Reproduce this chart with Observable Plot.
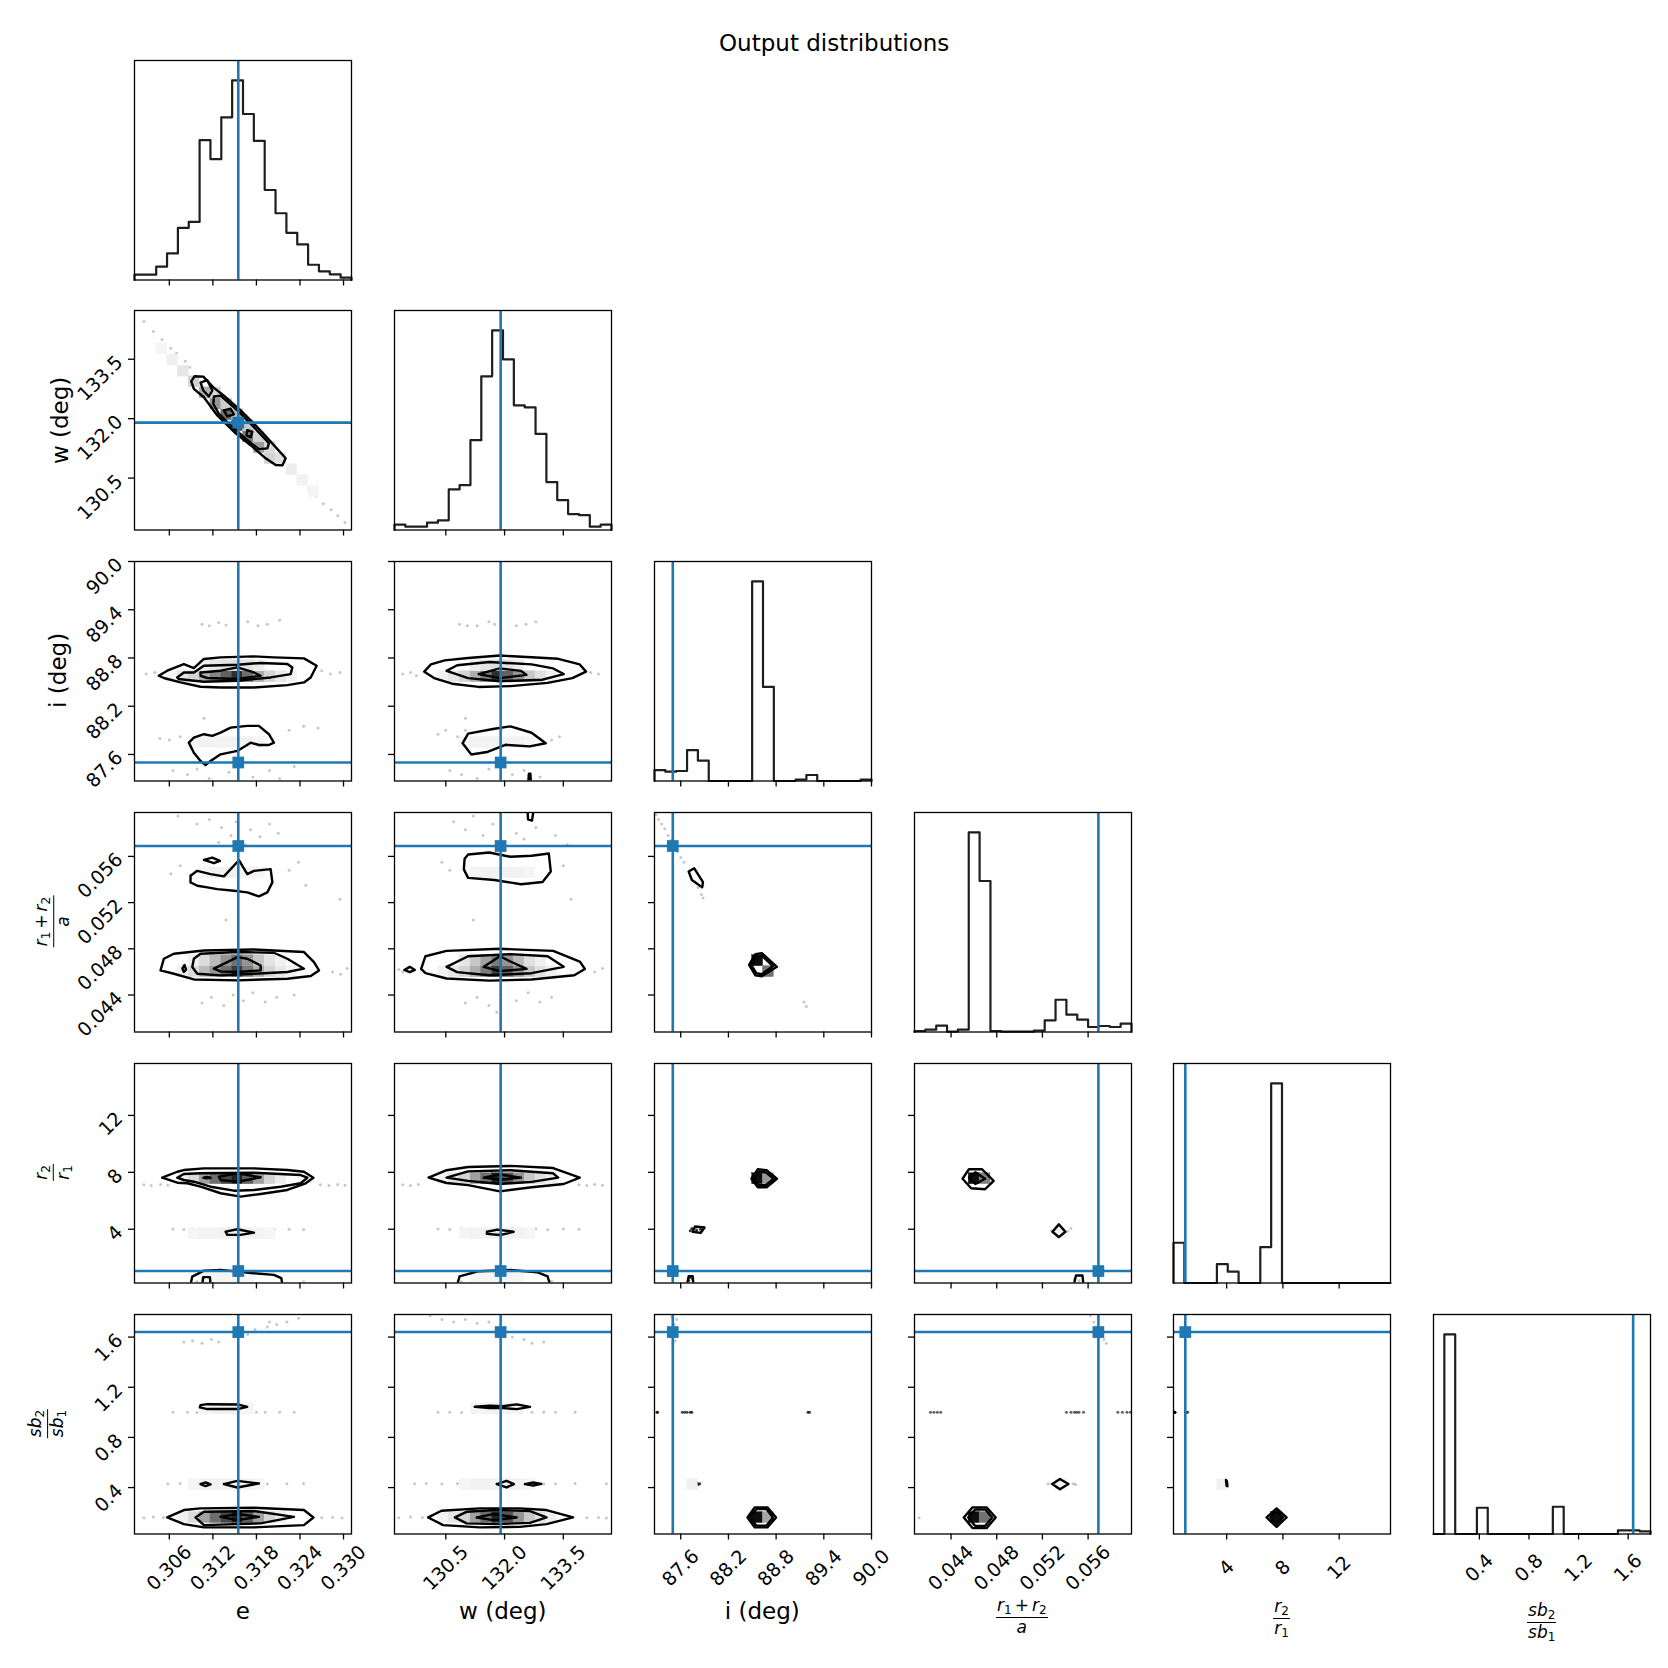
<!DOCTYPE html>
<html>
<head>
<meta charset="utf-8">
<script src="https://cdn.jsdelivr.net/npm/d3@7"></script>
<script src="https://cdn.jsdelivr.net/npm/@observablehq/plot@0.6"></script>
<style>
  body { margin: 0; background: #fff; }
  #fig { position: relative; width: 1668px; height: 1668px; background: #fff; overflow: hidden; font-family: "DejaVu Sans", sans-serif; }
  .lbl { position: absolute; white-space: nowrap; color: #000; font-family: "DejaVu Sans", sans-serif; line-height: 1.164; }
  .frac { display: inline-flex; flex-direction: column; align-items: center; font-size: 17px; line-height: 1.15; }
  .frac .num { border-bottom: 1.3px solid #000; padding: 0 1px 1px; }
  .frac .den { padding-top: 0px; }
  .frac i { font-style: italic; }
  .frac sub { font-size: 12px; vertical-align: -3px; line-height: 0; font-style: normal; }
  .frac .op { margin: 0 3px; font-style: normal; }
</style>
</head>
<body>
<div id="fig"></div>
<script>
// ---------------- data ----------------
const varKeys = ["e", "w", "i", "rr", "q", "s"];
const domains = [[0.3012, 0.3311], [129.19, 134.73], [87.27, 90.0], [0.0408, 0.0598], [0.22, 15.65], [0.03, 1.78]];
const truths = [0.3155, 131.9, 87.5, 0.0569, 1.06, 1.64];
const ticks = [
  [0.306, 0.312, 0.318, 0.324, 0.330],
  [130.5, 132.0, 133.5],
  [87.6, 88.2, 88.8, 89.4, 90.0],
  [0.044, 0.048, 0.052, 0.056],
  [4, 8, 12],
  [0.4, 0.8, 1.2, 1.6]
];
const tickLabels = [
  ["0.306", "0.312", "0.318", "0.324", "0.330"],
  ["130.5", "132.0", "133.5"],
  ["87.6", "88.2", "88.8", "89.4", "90.0"],
  ["0.044", "0.048", "0.052", "0.056"],
  ["4", "8", "12"],
  ["0.4", "0.8", "1.2", "1.6"]
];
const titleText = "Output distributions";
const labelPlain = ["e", "w (deg)", "i (deg)", null, null, null];
const labelNum = [null, null, null, "<i>r</i><sub>1</sub><span class='op'>+</span><i>r</i><sub>2</sub>", "<i>r</i><sub>2</sub>", "<i>sb</i><sub>2</sub>"];
const labelDen = [null, null, null, "<i>a</i>", "<i>r</i><sub>1</sub>", "<i>sb</i><sub>1</sub>"];

// histogram counts (20 bins over each range)
const histE = [16, 16, 40, 80, 157, 175, 421, 364, 490, 601, 500, 419, 271, 201, 142, 107, 46, 26, 17, 7];
const histW = [16, 10, 10, 22, 29, 122, 135, 270, 462, 600, 513, 375, 369, 289, 144, 90, 48, 45, 10, 16];
const histI = [33, 28, 30, 93, 61, 0, 0, 0, 0, 600, 283, 0, 0, 4, 18, 0, 0, 0, 0, 4];
const histRR = [3, 7, 19, 1, 7, 600, 454, 3, 1, 1, 1, 4, 35, 97, 52, 37, 15, 18, 15, 25];
const histQ = [121, 0, 0, 0, 57, 34, 0, 0, 108, 600, 0, 0, 0, 0, 0, 0, 0, 0, 0, 0];
const histS = [0, 601, 0, 0, 79, 0, 0, 0, 0, 0, 0, 82, 0, 0, 0, 0, 0, 11, 11, 8];

// contour polygons [x, y] in data units (y var _ x var)
const cont_w_e = [
  [[0.30902,132.94],[0.30948,133.07],[0.31068,133.06],[0.31206,132.79],[0.31352,132.58],[0.31582,132.21],[0.31789,131.83],[0.31996,131.42],[0.32203,131.0],[0.32157,130.82],[0.32065,130.83],[0.31927,131.0],[0.3172,131.33],[0.3149,131.67],[0.31261,132.08],[0.31076,132.54],[0.30938,132.75]],
  [[0.3103,132.91],[0.31123,132.97],[0.31192,132.71],[0.31145,132.56],[0.31068,132.71]],
  [[0.31214,132.56],[0.31306,132.58],[0.31537,132.21],[0.31743,131.83],[0.31972,131.38],[0.3195,131.25],[0.31834,131.23],[0.31674,131.46],[0.31468,131.79],[0.31283,132.12],[0.31206,132.37]],
  [[0.31352,132.21],[0.31444,132.25],[0.3149,132.11],[0.31399,132.06]],
  [[0.31674,131.71],[0.31743,131.67],[0.3172,131.53],[0.31665,131.58]]
];
const cont_i_e = [
  [[0.30455,88.579],[0.30571,88.642],[0.308,88.725],[0.30938,88.675],[0.31076,88.788],[0.31306,88.807],[0.31766,88.82],[0.32041,88.807],[0.32455,88.795],[0.3263,88.704],[0.32548,88.558],[0.32455,88.496],[0.32226,88.463],[0.31766,88.433],[0.31306,88.433],[0.3103,88.442],[0.30754,88.496],[0.30524,88.551]],
  [[0.30709,88.558],[0.308,88.62],[0.30938,88.62],[0.31076,88.704],[0.31537,88.716],[0.31858,88.738],[0.32226,88.725],[0.32295,88.683],[0.32272,88.6],[0.31996,88.558],[0.31537,88.517],[0.31076,88.504],[0.30847,88.526],[0.30731,88.538]],
  [[0.3103,88.62],[0.31306,88.642],[0.31537,88.683],[0.31766,88.62],[0.31858,88.579],[0.31537,88.538],[0.31123,88.551],[0.3103,88.579]],
  [[0.30869,87.747],[0.30938,87.81],[0.31076,87.852],[0.31192,87.831],[0.31306,87.872],[0.31444,87.934],[0.31674,87.955],[0.31834,87.955],[0.31972,87.852],[0.32041,87.747],[0.31972,87.718],[0.31834,87.718],[0.3172,87.747],[0.31537,87.644],[0.31306,87.602],[0.31168,87.519],[0.31099,87.469],[0.3103,87.519],[0.30938,87.622]]
];
const cont_rr_e = [
  [[0.30479,0.04613],[0.30524,0.04714],[0.30662,0.04757],[0.31076,0.04785],[0.31766,0.04794],[0.32455,0.04772],[0.32593,0.04685],[0.32662,0.04613],[0.32548,0.04565],[0.32226,0.04541],[0.31537,0.04527],[0.30938,0.04535],[0.30662,0.04584]],
  [[0.30938,0.04714],[0.3103,0.04757],[0.31537,0.04772],[0.32041,0.04766],[0.32226,0.04714],[0.32455,0.04628],[0.32226,0.04599],[0.31766,0.04584],[0.31306,0.0457],[0.30985,0.04584],[0.30916,0.04642]],
  [[0.31214,0.04628],[0.31399,0.04685],[0.31537,0.04728],[0.31674,0.04714],[0.31858,0.04656],[0.31858,0.04613],[0.31537,0.04599],[0.31306,0.04604]],
  [[0.3078,0.0463],[0.3081,0.0466],[0.3083,0.0462],[0.308,0.046]],
  [[0.30892,0.05432],[0.30985,0.05475],[0.31168,0.05447],[0.31352,0.05427],[0.31559,0.05567],[0.31674,0.05447],[0.31766,0.05475],[0.31996,0.0549],[0.3202,0.05375],[0.3195,0.05289],[0.31834,0.05254],[0.31674,0.05289],[0.3149,0.05303],[0.31261,0.05317],[0.31123,0.05332],[0.30985,0.05346],[0.30892,0.05375]],
  [[0.31076,0.0557],[0.31192,0.0559],[0.31297,0.05561],[0.31214,0.05541]]
];
const cont_q_e = [
  [[0.30502,7.62],[0.30709,8.04],[0.308,8.16],[0.31076,8.28],[0.31766,8.28],[0.32226,8.16],[0.32455,8.04],[0.32585,7.62],[0.32479,7.23],[0.32226,6.76],[0.31858,6.48],[0.31582,6.29],[0.31306,6.53],[0.3103,6.99],[0.30847,7.23],[0.30709,7.27]],
  [[0.30709,7.62],[0.308,7.88],[0.3103,7.93],[0.31766,7.97],[0.3241,7.81],[0.32502,7.62],[0.3241,7.23],[0.32134,6.99],[0.31766,6.76],[0.3149,6.71],[0.31168,6.99],[0.30938,7.34],[0.308,7.46]],
  [[0.31283,7.69],[0.31537,7.93],[0.31858,7.65],[0.31537,7.34],[0.31306,7.46]],
  [[0.3107,7.62],[0.3112,7.68],[0.3117,7.62],[0.3112,7.57]],
  [[0.31375,3.83],[0.31537,4.0],[0.31766,3.76],[0.31582,3.6],[0.31399,3.6]]
];
const open_q_e = [
  [[0.30892,0.1],[0.30916,0.67],[0.31076,1.09],[0.31306,1.14],[0.31766,0.91],[0.32041,0.79],[0.32143,0.56],[0.32157,0.1]],
  [[0.31053,0.1],[0.31067,0.63],[0.31159,0.63],[0.31168,0.1]]
];
const cont_s_e = [
  [[0.30571,0.162],[0.308,0.221],[0.3103,0.234],[0.31766,0.239],[0.32455,0.221],[0.32585,0.162],[0.32455,0.101],[0.31766,0.083],[0.31076,0.083],[0.308,0.109]],
  [[0.30961,0.162],[0.31076,0.207],[0.31766,0.213],[0.32317,0.167],[0.31858,0.115],[0.31076,0.101]],
  [[0.31306,0.167],[0.31537,0.189],[0.31834,0.167],[0.31537,0.141]],
  [[0.3103,0.428],[0.31099,0.441],[0.31168,0.425],[0.31099,0.412]],
  [[0.31352,0.428],[0.31537,0.454],[0.31834,0.433],[0.31537,0.401]],
  [[0.3103,1.057],[0.31123,1.065],[0.31537,1.063],[0.31674,1.044],[0.31537,1.026],[0.31123,1.026],[0.3102,1.039]]
];
const cont_i_w = [
  [[129.95,88.63],[130.12,88.72],[130.47,88.77],[131.07,88.8],[131.88,88.83],[132.69,88.81],[133.37,88.79],[133.92,88.72],[134.08,88.63],[133.73,88.55],[133.1,88.49],[132.15,88.45],[131.34,88.44],[130.66,88.48],[130.2,88.55]],
  [[130.52,88.64],[130.79,88.71],[131.61,88.75],[132.69,88.72],[133.24,88.67],[133.51,88.6],[132.97,88.53],[131.88,88.51],[131.07,88.55]],
  [[131.34,88.6],[131.88,88.67],[132.42,88.64],[132.56,88.59],[131.88,88.55]],
  [[130.93,87.74],[131.07,87.86],[131.74,87.92],[132.15,87.95],[132.69,87.87],[133.05,87.74],[132.64,87.7],[132.02,87.72],[131.55,87.63],[131.15,87.6]]
];
const open_i_w = [
  [[132.6,87.2],[132.62,87.36],[132.66,87.36],[132.68,87.2]]
];
const cont_rr_w = [
  [[129.87,0.04626],[129.98,0.04736],[130.52,0.04782],[131.88,0.048],[133.24,0.04782],[133.92,0.0469],[134.05,0.04626],[133.78,0.04571],[132.69,0.04534],[131.61,0.04525],[130.52,0.04543],[129.98,0.04589]],
  [[130.52,0.04644],[131.07,0.04736],[132.15,0.04754],[133.1,0.04736],[133.51,0.04644],[132.69,0.04589],[131.61,0.04571],[130.79,0.04598]],
  [[131.47,0.04644],[131.88,0.04736],[132.15,0.0469],[132.56,0.04626],[131.88,0.04607]],
  [[129.44,0.04617],[129.58,0.04644],[129.71,0.04617],[129.58,0.04598]],
  [[130.98,0.0558],[131.07,0.05616],[131.61,0.05634],[132.15,0.05597],[132.69,0.05606],[133.13,0.05625],[133.18,0.05469],[132.97,0.05378],[132.42,0.05359],[131.74,0.05396],[131.07,0.05414],[130.96,0.05488]]
];
const open_rr_w = [
  [[132.58,0.0602],[132.6,0.0592],[132.7,0.0591],[132.75,0.0602]]
];
const cont_q_w = [
  [[130.06,7.63],[130.52,8.15],[131.07,8.37],[132.15,8.45],[133.24,8.3],[133.92,7.63],[133.51,7.18],[132.69,6.95],[131.88,6.66],[131.07,7.1],[130.52,7.25]],
  [[130.52,7.63],[131.07,8.07],[132.15,8.15],[133.24,7.93],[133.37,7.63],[132.69,7.33],[131.88,7.18],[131.07,7.4]],
  [[131.47,7.63],[131.88,7.85],[132.42,7.63],[131.88,7.48]],
  [[131.55,3.82],[131.82,3.97],[132.23,3.82],[131.88,3.59],[131.55,3.67]]
];
const open_q_w = [
  [[130.79,0.1],[130.85,0.68],[131.34,1.05],[132.15,1.13],[132.83,0.98],[133.1,0.68],[133.16,0.1]]
];
const cont_s_w = [
  [[130.05,0.162],[130.39,0.215],[131.37,0.234],[132.39,0.234],[133.07,0.221],[133.75,0.162],[133.07,0.109],[132.39,0.087],[131.37,0.083],[130.43,0.101]],
  [[130.73,0.162],[131.03,0.207],[131.8,0.221],[132.65,0.213],[133.07,0.162],[132.65,0.119],[131.8,0.109],[131.03,0.115]],
  [[131.29,0.162],[131.71,0.189],[132.31,0.162],[131.71,0.141]],
  [[131.8,0.428],[132.05,0.454],[132.24,0.428],[132.05,0.401]],
  [[132.52,0.428],[132.73,0.441],[132.94,0.43],[132.73,0.417]],
  [[131.24,1.044],[131.62,1.052],[131.96,1.049],[132.31,1.063],[132.65,1.044],[132.31,1.026],[131.96,1.034],[131.62,1.034]]
];
const cont_rr_i = [
  [[88.46,0.04662],[88.54,0.04754],[88.62,0.04763],[88.81,0.04644],[88.62,0.04562],[88.54,0.04571]],
  [[88.49,0.0466],[88.55,0.0473],[88.62,0.0474],[88.76,0.0465],[88.62,0.0458],[88.55,0.0459]],
  [[87.7,0.05469],[87.77,0.05497],[87.88,0.05378],[87.87,0.05332],[87.74,0.05396]]
];
const cont_q_i = [
  [[88.49,7.55],[88.57,8.22],[88.68,8.15],[88.81,7.55],[88.68,6.95],[88.57,6.95]],
  [[88.52,7.55],[88.58,8.05],[88.67,8.0],[88.77,7.55],[88.67,7.1],[88.58,7.1]],
  [[87.75,3.82],[87.78,4.19],[87.9,4.12],[87.85,3.74]]
];
const open_q_i = [
  [[87.68,0.1],[87.7,0.7],[87.75,0.7],[87.76,0.1]]
];
const cont_s_i = [
  [[88.44,0.162],[88.53,0.242],[88.69,0.242],[88.8,0.162],[88.69,0.083],[88.53,0.083]],
  [[88.47,0.162],[88.55,0.228],[88.68,0.228],[88.76,0.162],[88.68,0.097],[88.55,0.097]]
];
const cont_q_rr = [
  [[0.04501,7.55],[0.04557,8.22],[0.0467,8.22],[0.04773,7.4],[0.04698,6.81],[0.04576,6.88]],
  [[0.04557,7.63],[0.04613,8.0],[0.04698,7.55],[0.04613,7.18]],
  [[0.05288,3.82],[0.05344,4.34],[0.05401,3.82],[0.05344,3.44]]
];
const open_q_rr = [
  [[0.05475,0.1],[0.05494,0.75],[0.0555,0.75],[0.0556,0.1]]
];
const cont_s_rr = [
  [[0.04512,0.162],[0.04588,0.242],[0.04711,0.242],[0.04791,0.162],[0.04711,0.077],[0.04588,0.077]],
  [[0.0455,0.162],[0.0461,0.225],[0.047,0.225],[0.0476,0.162],[0.047,0.095],[0.0461,0.095]],
  [[0.05287,0.428],[0.05353,0.468],[0.05428,0.428],[0.05353,0.386]]
];
const cont_s_q = [
  [[6.84,0.162],[7.55,0.234],[8.26,0.162],[7.55,0.087]],
  [[7.1,0.162],[7.55,0.212],[8.0,0.162],[7.55,0.11]],
  [[3.95,0.46],[4.02,0.45],[4.06,0.41],[3.99,0.415]]
];

// 2D density cells [x center, y center, level 0..1]
const cells_w_e = [[0.30494,133.76,0.04],[0.30644,133.48,0.06],[0.30793,133.2,0.1],[0.30942,132.93,0.18],[0.31092,132.65,0.32],[0.31241,132.37,0.42],[0.31241,132.65,0.14],[0.31391,132.1,0.58],[0.31391,132.37,0.2],[0.3154,131.82,0.68],[0.3154,132.1,0.28],[0.3169,131.54,0.52],[0.3169,131.82,0.22],[0.31839,131.27,0.38],[0.31839,131.54,0.17],[0.31989,130.99,0.17],[0.31989,131.27,0.14],[0.32138,130.99,0.12],[0.32288,130.71,0.07],[0.32437,130.44,0.05],[0.32587,130.16,0.04]];
const cells_i_e = [[0.30644,88.567,0.04],[0.30793,88.567,0.1],[0.30942,88.567,0.17],[0.31092,88.567,0.32],[0.31241,88.567,0.47],[0.31391,88.567,0.62],[0.3154,88.567,0.82],[0.3169,88.567,0.57],[0.31839,88.567,0.32],[0.31989,88.567,0.17],[0.32138,88.567,0.09],[0.32288,88.567,0.05],[0.31092,88.703,0.06],[0.31241,88.703,0.09],[0.31391,88.703,0.11],[0.3154,88.703,0.13],[0.3169,88.703,0.11],[0.31839,88.703,0.07],[0.30942,87.748,0.04],[0.31092,87.748,0.05],[0.31241,87.748,0.05],[0.31391,87.748,0.05],[0.3154,87.748,0.05],[0.3169,87.748,0.05],[0.31839,87.748,0.04]];
const cells_rr_e = [[0.30793,0.046025,0.06],[0.30942,0.046025,0.14],[0.31092,0.046025,0.27],[0.31241,0.046025,0.42],[0.31391,0.046025,0.57],[0.3154,0.046025,0.77],[0.3169,0.046025,0.52],[0.31839,0.046025,0.32],[0.31989,0.046025,0.17],[0.32138,0.046025,0.09],[0.32288,0.046025,0.05],[0.30942,0.046975,0.06],[0.31092,0.046975,0.14],[0.31241,0.046975,0.27],[0.31391,0.046975,0.42],[0.3154,0.046975,0.57],[0.3169,0.046975,0.42],[0.31839,0.046975,0.22],[0.31989,0.046975,0.11],[0.32138,0.046975,0.06],[0.31092,0.054575,0.04],[0.31241,0.054575,0.05],[0.31391,0.054575,0.05],[0.3154,0.054575,0.05],[0.3169,0.054575,0.05],[0.31839,0.054575,0.04]];
const cells_q_e = [[0.30793,7.55,0.06],[0.30942,7.55,0.14],[0.31092,7.55,0.37],[0.31241,7.55,0.57],[0.31391,7.55,0.72],[0.3154,7.55,0.87],[0.3169,7.55,0.62],[0.31839,7.55,0.37],[0.31989,7.55,0.17],[0.32138,7.55,0.07],[0.30942,3.69,0.04],[0.31092,3.69,0.05],[0.31241,3.69,0.05],[0.31391,3.69,0.06],[0.3154,3.69,0.06],[0.3169,3.69,0.05],[0.31839,3.69,0.05],[0.31989,3.69,0.04],[0.31092,0.606,0.04],[0.31241,0.606,0.04],[0.31391,0.606,0.04],[0.3154,0.606,0.04],[0.3169,0.606,0.04]];
const cells_s_e = [[0.30793,0.161,0.06],[0.30942,0.161,0.14],[0.31092,0.161,0.37],[0.31241,0.161,0.57],[0.31391,0.161,0.72],[0.3154,0.161,0.87],[0.3169,0.161,0.62],[0.31839,0.161,0.37],[0.31989,0.161,0.17],[0.32138,0.161,0.07],[0.30942,0.424,0.04],[0.31092,0.424,0.05],[0.31241,0.424,0.05],[0.31391,0.424,0.05],[0.3154,0.424,0.05],[0.3169,0.424,0.05],[0.31839,0.424,0.04],[0.31092,1.03,0.04],[0.31241,1.03,0.05],[0.31391,1.03,0.05],[0.3154,1.03,0.05],[0.3169,1.03,0.04]];
const cells_i_w = [[130.44,88.567,0.05],[130.71,88.567,0.1],[130.99,88.567,0.17],[131.27,88.567,0.32],[131.54,88.567,0.52],[131.82,88.567,0.82],[132.1,88.567,0.62],[132.37,88.567,0.42],[132.65,88.567,0.22],[132.93,88.567,0.12],[133.2,88.567,0.06],[131.27,88.703,0.07],[131.54,88.703,0.11],[131.82,88.703,0.13],[132.1,88.703,0.11],[132.37,88.703,0.07],[130.99,87.748,0.04],[131.27,87.748,0.05],[131.54,87.748,0.05],[131.82,87.748,0.05],[132.1,87.748,0.05],[132.37,87.748,0.05],[132.65,87.748,0.04]];
const cells_rr_w = [[130.44,0.046025,0.05],[130.71,0.046025,0.1],[130.99,0.046025,0.17],[131.27,0.046025,0.32],[131.54,0.046025,0.52],[131.82,0.046025,0.77],[132.1,0.046025,0.62],[132.37,0.046025,0.42],[132.65,0.046025,0.22],[132.93,0.046025,0.12],[133.2,0.046025,0.06],[130.99,0.046975,0.1],[131.27,0.046975,0.22],[131.54,0.046975,0.37],[131.82,0.046975,0.52],[132.1,0.046975,0.42],[132.37,0.046975,0.27],[132.65,0.046975,0.12],[132.93,0.046975,0.06],[131.27,0.054575,0.04],[131.54,0.054575,0.05],[131.82,0.054575,0.05],[132.1,0.054575,0.05],[132.37,0.054575,0.05],[132.65,0.054575,0.04]];
const cells_q_w = [[130.44,7.55,0.05],[130.71,7.55,0.1],[130.99,7.55,0.17],[131.27,7.55,0.37],[131.54,7.55,0.57],[131.82,7.55,0.87],[132.1,7.55,0.67],[132.37,7.55,0.42],[132.65,7.55,0.22],[132.93,7.55,0.12],[133.2,7.55,0.06],[130.99,3.69,0.04],[131.27,3.69,0.05],[131.54,3.69,0.05],[131.82,3.69,0.06],[132.1,3.69,0.05],[132.37,3.69,0.05],[132.65,3.69,0.04],[131.27,0.606,0.04],[131.54,0.606,0.04],[131.82,0.606,0.04],[132.1,0.606,0.04],[132.37,0.606,0.04]];
const cells_s_w = [[130.44,0.161,0.05],[130.71,0.161,0.1],[130.99,0.161,0.17],[131.27,0.161,0.37],[131.54,0.161,0.57],[131.82,0.161,0.87],[132.1,0.161,0.67],[132.37,0.161,0.42],[132.65,0.161,0.22],[132.93,0.161,0.12],[133.2,0.161,0.06],[130.99,0.424,0.04],[131.27,0.424,0.05],[131.54,0.424,0.05],[131.82,0.424,0.05],[132.1,0.424,0.05],[132.37,0.424,0.05],[132.65,0.424,0.04],[131.27,1.03,0.04],[131.54,1.03,0.05],[131.82,1.03,0.05],[132.1,1.03,0.05],[132.37,1.03,0.04]];
const cells_rr_i = [[88.567,0.046975,0.95],[88.703,0.046025,0.55]];
const cells_q_i = [[88.567,7.55,0.95],[88.703,7.55,0.4]];
const cells_s_i = [[88.567,0.161,0.95],[88.703,0.161,0.35],[87.748,0.424,0.06]];
const cells_q_rr = [[0.046025,7.55,0.95],[0.046975,7.55,0.5],[0.053625,3.69,0.05]];
const cells_s_rr = [[0.046025,0.161,0.95],[0.046975,0.161,0.55],[0.053625,0.424,0.05]];
const cells_s_q = [[7.55,0.161,0.95],[3.69,0.424,0.05]];

// scattered samples outside the contours [x, y, optional opacity]
const dots_w_e = [[0.3025,134.45],[0.3038,134.2],[0.305,134.0],[0.3062,133.78],[0.307,133.65],[0.3082,133.45],[0.3088,133.3],[0.3079,133.22,0.9],[0.3228,130.7],[0.324,130.45],[0.3252,130.25],[0.3262,130.05],[0.3272,129.85],[0.3283,129.7],[0.3292,129.55],[0.3302,129.38]];
const dots_i_e = [[0.3105,89.22],[0.3115,89.2],[0.3128,89.24],[0.3138,89.21],[0.3168,89.25],[0.3182,89.2],[0.3195,89.22],[0.3212,89.27],[0.3028,88.6],[0.304,88.62],[0.3047,88.58],[0.327,88.64],[0.3282,88.6],[0.3295,88.62],[0.3047,87.8],[0.306,87.78],[0.3075,87.82],[0.3225,87.9],[0.3245,87.95],[0.3265,87.93],[0.3065,87.4],[0.3085,87.35],[0.3098,87.42],[0.3115,87.3],[0.3142,87.38],[0.3175,87.32],[0.3198,87.4],[0.3212,87.3],[0.3232,87.45],[0.3108,88.05]];
const dots_rr_e = [[0.3072,0.0595],[0.3098,0.0588],[0.3115,0.0592],[0.3132,0.0585],[0.3145,0.0578],[0.3152,0.059],[0.3172,0.0583],[0.3185,0.0577],[0.3198,0.0588],[0.321,0.058],[0.3128,0.0572],[0.3165,0.057],[0.3075,0.0552],[0.3062,0.0545],[0.3225,0.0548],[0.3238,0.0555],[0.3248,0.0535],[0.3105,0.0433],[0.3118,0.0438],[0.3135,0.0431],[0.3148,0.044],[0.3162,0.0435],[0.3175,0.0442],[0.3192,0.0434],[0.3208,0.0438],[0.3232,0.044],[0.3285,0.046],[0.3296,0.0458],[0.3305,0.0463],[0.3138,0.0505],[0.3295,0.0523]];
const dots_q_e = [[0.3025,7.12],[0.3035,7.08],[0.3048,7.15],[0.3058,7.1],[0.3268,7.12],[0.328,7.08],[0.3292,7.15],[0.3302,7.1],[0.3065,4.02],[0.308,3.98],[0.3092,4.05],[0.3105,4.0],[0.3118,3.95],[0.3128,4.02],[0.3142,4.05],[0.316,3.98],[0.3172,4.03],[0.3188,3.97],[0.3205,4.02],[0.3225,4.0],[0.3245,3.98],[0.3098,0.3],[0.3112,0.35],[0.3245,0.3]];
const dots_s_e = [[0.3065,1.0],[0.3085,1.0],[0.3098,0.998],[0.3112,1.0],[0.3125,1.002],[0.3135,1.0,0.45],[0.3148,1.0,0.45],[0.3162,0.998],[0.318,1.0],[0.3192,1.0],[0.3212,1.0],[0.3232,1.0],[0.3058,0.43],[0.3075,0.432],[0.3092,0.428],[0.3118,0.432],[0.3145,0.43],[0.3175,0.433],[0.3195,0.428],[0.3222,0.43],[0.3245,0.432],[0.3025,0.16],[0.3038,0.165],[0.3052,0.162],[0.327,0.16],[0.3285,0.162],[0.3298,0.158],[0.308,1.56],[0.3092,1.57],[0.3105,1.55],[0.3118,1.58],[0.3128,1.56],[0.315,1.6],[0.3168,1.62],[0.3178,1.66],[0.3195,1.68],[0.3208,1.7],[0.3222,1.72],[0.3238,1.75],[0.3198,1.72]];
const dots_i_w = [[130.85,89.22],[131.05,89.2],[131.3,89.2],[131.6,89.25],[131.75,89.22],[132.3,89.2],[132.55,89.22],[132.8,89.25],[129.4,88.6],[129.6,88.62],[129.75,88.58],[134.2,88.62],[134.4,88.6],[130.3,87.85],[130.5,87.9],[130.8,87.82],[131.0,87.9],[132.9,87.8],[133.2,87.78],[133.4,87.82],[130.6,87.4],[130.9,87.35],[131.3,87.3],[131.6,87.42],[132.2,87.35],[132.5,87.4],[132.9,87.32],[131.0,88.05]];
const dots_rr_w = [[130.7,0.059],[131.0,0.0583],[131.2,0.0595],[131.45,0.0578],[131.7,0.0588],[132.3,0.058],[132.5,0.0575],[132.8,0.0585],[133.3,0.0578],[133.6,0.057],[130.4,0.0555],[130.6,0.0548],[133.5,0.0552],[131.0,0.0433],[131.3,0.0438],[131.6,0.0431],[131.9,0.044],[132.3,0.0435],[132.6,0.0442],[132.9,0.0434],[133.2,0.0438],[134.3,0.046],[134.5,0.0463],[129.4,0.046],[129.3,0.0462],[131.2,0.0505],[133.7,0.0523],[131.8,0.0425]];
const dots_q_w = [[129.4,7.12],[129.6,7.08],[129.8,7.15],[133.9,7.12],[134.1,7.08],[134.3,7.15],[134.5,7.1],[130.3,4.02],[130.6,3.98],[130.9,4.05],[131.2,4.0],[131.5,3.95],[131.8,4.02,0.45],[132.2,4.05,0.45],[132.5,3.98],[132.8,4.03],[133.1,3.97],[133.5,4.02],[133.9,4.0],[130.9,0.3],[133.2,0.35]];
const dots_s_w = [[130.3,1.0],[130.6,1.0],[130.9,0.998],[131.2,1.0,0.45],[131.5,1.002,0.45],[131.8,1.0,0.45],[132.1,1.0,0.45],[132.4,0.998,0.45],[132.7,1.0],[133.0,1.0],[133.3,1.0],[133.8,1.0],[129.7,0.43],[130.0,0.432],[130.4,0.428],[130.8,0.432],[131.2,0.43],[131.5,0.433],[133.0,0.428],[133.3,0.43],[133.8,0.432],[134.6,0.43],[129.3,0.16],[129.6,0.165],[129.9,0.162],[134.1,0.16],[134.4,0.162],[134.6,0.158],[130.1,1.77],[130.4,1.74],[130.7,1.72],[131.0,1.74],[131.3,1.71],[131.6,1.72],[132.2,1.6],[132.5,1.58],[132.7,1.55],[133.0,1.56]];
const dots_rr_i = [[87.29,0.0596],[87.32,0.0592],[87.36,0.0588],[87.4,0.0584],[87.44,0.0578],[87.48,0.0574],[87.52,0.0569],[87.56,0.0564],[87.6,0.0559],[87.64,0.0555],[87.78,0.0538],[87.82,0.0533],[87.86,0.0527],[87.88,0.0524],[89.15,0.0434],[89.18,0.043]];
const dots_q_i = [[87.72,3.9,0.8],[87.74,4.05,0.8],[87.8,3.95,0.8],[87.85,4.0,0.8],[87.7,0.4,0.7],[87.72,0.6,0.7],[87.75,0.5,0.7]];
const dots_s_i = [[87.3,1.0,0.7],[87.31,1.0,0.7],[87.62,1.0,0.7],[87.65,1.0,0.7],[87.68,1.0,0.7],[87.72,1.0,0.7],[87.74,1.0,0.7],[89.2,1.0,0.7],[89.22,1.0,0.7],[87.47,1.6],[87.5,1.65],[87.52,1.7],[87.55,1.74],[87.49,1.76],[87.53,1.57],[87.5,1.55],[87.78,0.43,0.7],[87.8,0.44,0.7],[87.82,0.425,0.7],[87.79,0.42,0.7],[87.81,0.435,0.7],[87.84,0.43,0.7]];
const dots_q_rr = [[0.0528,3.9],[0.0532,4.0],[0.0537,3.95],[0.0542,3.85],[0.0545,4.05],[0.0548,0.5],[0.0552,0.4]];
const dots_s_rr = [[0.0422,1.0,0.6],[0.0425,1.0,0.6],[0.0428,1.0,0.6],[0.0431,1.0,0.6],[0.0541,1.0,0.6],[0.0545,1.0,0.6],[0.0548,1.0,0.6],[0.055,1.0,0.6],[0.0552,1.0,0.6],[0.0556,1.0,0.6],[0.0586,1.0,0.6],[0.059,1.0,0.6],[0.0594,1.0,0.6],[0.0597,1.0,0.6],[0.0562,1.77],[0.0565,1.72],[0.0568,1.68],[0.0571,1.6],[0.0574,1.58],[0.0576,1.55],[0.0569,1.75],[0.0525,0.43],[0.0528,0.43],[0.0547,0.43],[0.0549,0.425],[0.0412,0.16]];
const dots_s_q = [[0.3,1.0,0.9],[0.32,1.0,0.9],[0.31,1.0,0.9],[1.2,1.0,0.5],[1.22,1.0,0.5],[3.98,0.43,0.8],[4.0,0.44,0.8]];

// ---------------- layout & drawing ----------------
const BLUE = "#1f77b4";
const gray = d3.interpolateRgb("#ffffff", "#000000");
const hists = [histE, histW, histI, histRR, histQ, histS];
const panelTable = {
  w_e: {cont: cont_w_e, open: [], cells: cells_w_e, dots: dots_w_e},
  i_e: {cont: cont_i_e, open: [], cells: cells_i_e, dots: dots_i_e},
  rr_e: {cont: cont_rr_e, open: [], cells: cells_rr_e, dots: dots_rr_e},
  q_e: {cont: cont_q_e, open: open_q_e, cells: cells_q_e, dots: dots_q_e},
  s_e: {cont: cont_s_e, open: [], cells: cells_s_e, dots: dots_s_e},
  i_w: {cont: cont_i_w, open: open_i_w, cells: cells_i_w, dots: dots_i_w},
  rr_w: {cont: cont_rr_w, open: open_rr_w, cells: cells_rr_w, dots: dots_rr_w},
  q_w: {cont: cont_q_w, open: open_q_w, cells: cells_q_w, dots: dots_q_w},
  s_w: {cont: cont_s_w, open: [], cells: cells_s_w, dots: dots_s_w},
  rr_i: {cont: cont_rr_i, open: [], cells: cells_rr_i, dots: dots_rr_i},
  q_i: {cont: cont_q_i, open: open_q_i, cells: cells_q_i, dots: dots_q_i},
  s_i: {cont: cont_s_i, open: [], cells: cells_s_i, dots: dots_s_i},
  q_rr: {cont: cont_q_rr, open: open_q_rr, cells: cells_q_rr, dots: dots_q_rr},
  s_rr: {cont: cont_s_rr, open: [], cells: cells_s_rr, dots: dots_s_rr},
  s_q: {cont: cont_s_q, open: [], cells: cells_s_q, dots: dots_s_q}
};

const PW = 217, PH = 219.5;
const ML = 70, MR = 10, MT = 10, MB = 70;
const colLeft = c => 134.3 + 259.75 * c;
const rowTop = r => 59.6 + 250.8 * r;
const FONT = "DejaVu Sans";

function polyRows(polys, closed) {
  const rows = [];
  polys.forEach((p, k) => {
    p.forEach(([x, y]) => rows.push({x, y, z: k}));
    if (closed) rows.push({x: p[0][0], y: p[0][1], z: k});
  });
  return rows;
}

function makePanel(r, c) {
  const xd = domains[c];
  const marks = [];
  let yd;
  if (r === c) {
    const h = hists[c];
    yd = [0, d3.max(h) * 1.1];
    const bw = (xd[1] - xd[0]) / h.length;
    const pts = [{x: xd[0], y: 0}];
    h.forEach((v, k) => pts.push({x: xd[0] + k * bw, y: v}));
    pts.push({x: xd[1], y: h[h.length - 1]});
    pts.push({x: xd[1], y: 0});
    marks.push(Plot.line(pts, {x: "x", y: "y", curve: "step-after", stroke: "#1e1e1e", strokeWidth: 2.2}));
    marks.push(Plot.ruleX([truths[c]], {stroke: BLUE, strokeWidth: 2.6}));
  } else {
    yd = domains[r];
    const pd = panelTable[varKeys[r] + "_" + varKeys[c]];
    const bx = (xd[1] - xd[0]) / 20, by = (yd[1] - yd[0]) / 20;
    marks.push(Plot.dot(pd.dots, {x: d => d[0], y: d => d[1], r: 1.5, fill: "#000", fillOpacity: d => d.length > 2 ? d[2] : 0.22, clip: true}));
    marks.push(Plot.rect(pd.cells, {
      x1: d => d[0] - bx / 2, x2: d => d[0] + bx / 2,
      y1: d => d[1] - by / 2, y2: d => d[1] + by / 2,
      fill: d => gray(d[2]), stroke: d => gray(d[2]), strokeWidth: 0.4, clip: true
    }));
    marks.push(Plot.line(polyRows(pd.cont, true), {x: "x", y: "y", z: "z", stroke: "#000", strokeWidth: 2.4, strokeLinejoin: "round", clip: true}));
    if (pd.open.length) marks.push(Plot.line(polyRows(pd.open, false), {x: "x", y: "y", z: "z", stroke: "#000", strokeWidth: 2.4, clip: true}));
    marks.push(Plot.ruleX([truths[c]], {stroke: BLUE, strokeWidth: 2.6}));
    marks.push(Plot.ruleY([truths[r]], {stroke: BLUE, strokeWidth: 2.6}));
    marks.push(Plot.dot([[truths[c], truths[r]]], {x: d => d[0], y: d => d[1], symbol: "square", r: 6.6, fill: BLUE}));
    marks.push(Plot.axisY({ticks: ticks[r], tickSize: 6, tickFormat: () => "", label: null, stroke: "#000", strokeWidth: 1.3}));
    if (c === 0) {
      marks.push(Plot.text(ticks[r].map((t, k) => ({t, s: tickLabels[r][k]})), {
        y: "t", text: "s", frameAnchor: "left", textAnchor: "end", lineAnchor: "middle",
        rotate: -45, dx: -15, fontSize: 19, fontFamily: FONT, fill: "#000"
      }));
    }
  }
  marks.push(Plot.axisX({ticks: ticks[c], tickSize: 6, tickFormat: () => "", label: null, stroke: "#000", strokeWidth: 1.3}));
  if (r === 5) {
    marks.push(Plot.text(ticks[c].map((t, k) => ({t, s: tickLabels[c][k]})), {
      x: "t", text: "s", frameAnchor: "bottom", textAnchor: "middle", lineAnchor: "middle",
      rotate: -45, dy: 34, fontSize: 19, fontFamily: FONT, fill: "#000"
    }));
  }
  marks.push(Plot.frame({stroke: "#000", strokeWidth: 1.3}));
  return Plot.plot({
    width: ML + PW + MR, height: MT + PH + MB,
    marginLeft: ML, marginRight: MR, marginTop: MT, marginBottom: MB,
    x: {domain: xd, axis: null},
    y: {domain: yd, axis: null},
    style: {background: "transparent", overflow: "visible", fontFamily: FONT},
    marks
  });
}

const fig = document.getElementById("fig");
for (let r = 0; r < 6; r++) {
  for (let c = 0; c <= r; c++) {
    const svg = makePanel(r, c);
    svg.style.position = "absolute";
    svg.style.left = (colLeft(c) - ML) + "px";
    svg.style.top = (rowTop(r) - MT) + "px";
    fig.appendChild(svg);
  }
}

function place(el, cx, cy, rot) {
  el.style.left = "0px"; el.style.top = "0px";
  fig.appendChild(el);
  const w = el.offsetWidth, h = el.offsetHeight;
  el.style.left = (cx - w / 2) + "px";
  el.style.top = (cy - h / 2) + "px";
  if (rot) { el.style.transformOrigin = "50% 50%"; el.style.transform = "rotate(" + rot + "deg)"; }
}
function makeLabel(k) {
  const el = document.createElement("div");
  el.className = "lbl";
  if (labelPlain[k] !== null) {
    el.style.fontSize = "23px";
    el.textContent = labelPlain[k];
  } else {
    el.innerHTML = "<span class='frac'><span class='num'>" + labelNum[k] + "</span><span class='den'>" + labelDen[k] + "</span></span>";
  }
  return el;
}

// title
const title = document.createElement("div");
title.className = "lbl";
title.style.fontSize = "23px";
title.textContent = titleText;
place(title, 834, 43.5, 0);

// x labels (bottom row)
const xLabelCY = [1611, 1611, 1611, 1616.7, 1617.5, 1621.5];
for (let c = 0; c < 6; c++) place(makeLabel(c), colLeft(c) + PW / 2, xLabelCY[c], 0);
// y labels (first column)
const yLabelCX = [0, 60, 58, 53.3, 52.5, 46.7];
for (let r = 1; r < 6; r++) place(makeLabel(r), yLabelCX[r], rowTop(r) + PH / 2, -90);
</script>
</body>
</html>
